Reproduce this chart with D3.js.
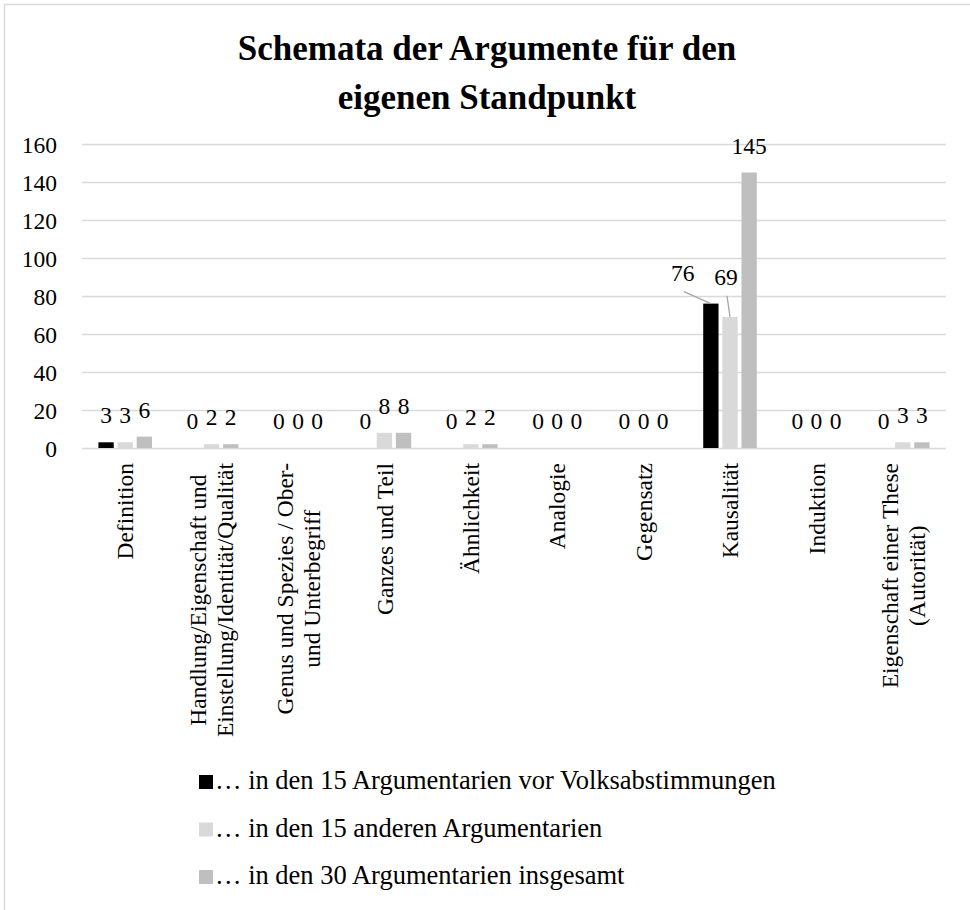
<!DOCTYPE html>
<html>
<head>
<meta charset="utf-8">
<script src="https://cdn.jsdelivr.net/npm/d3@7"></script>
<style>
  body { margin: 0; background: #fff; }
  text { font-family: "Liberation Serif", "Times New Roman", serif; fill: #000; }
</style>
</head>
<body>
<div id="chart"></div>
<script>
// categories (each entry = lines of the rotated label)
var categories = [
  ["Definition"],
  ["Handlung/Eigenschaft und", "Einstellung/Identität/Qualität"],
  ["Genus und Spezies / Ober-", "und Unterbegriff"],
  ["Ganzes und Teil"],
  ["Ähnlichkeit"],
  ["Analogie"],
  ["Gegensatz"],
  ["Kausalität"],
  ["Induktion"],
  ["Eigenschaft einer These", "(Autorität)"]
];

var seriesNames = [
  "… in den 15 Argumentarien vor Volksabstimmungen",
  "… in den 15 anderen Argumentarien",
  "… in den 30 Argumentarien insgesamt"
];
var volksabstimmung = [3, 0, 0, 0, 0, 0, 0, 76, 0, 0];
var andere          = [3, 2, 0, 8, 2, 0, 0, 69, 0, 3];
var insgesamt       = [6, 2, 0, 8, 2, 0, 0, 145, 0, 3];
var seriesValues = [volksabstimmung, andere, insgesamt];
var colors = ["#000000", "#d9d9d9", "#bfbfbf"];

var yTicks = [0, 20, 40, 60, 80, 100, 120, 140, 160];
var titleLines = ["Schemata der Argumente für den", "eigenen Standpunkt"];

var width = 970, height = 910;
var margin = {left: 82, right: 24, top: 144, plotBottom: 448};
var labelSize = "23.5px";

var svg = d3.select("#chart").append("svg")
  .attr("width", width)
  .attr("height", height);

// outer frame of the chart area
svg.append("path")
  .attr("d", "M4.5," + height + " V4.5 H" + width)
  .attr("fill", "none")
  .attr("stroke", "#d9d9d9")
  .attr("stroke-width", 1.5);

// title
svg.append("g").selectAll("text")
  .data(titleLines)
  .enter().append("text")
  .attr("x", 487)
  .attr("y", function(d, i) { return 60 + i * 49; })
  .attr("text-anchor", "middle")
  .style("font-weight", "bold")
  .style("font-size", "35px")
  .text(function(d) { return d; });

var x0 = d3.scaleBand()
  .domain(d3.range(categories.length))
  .range([margin.left, width - margin.right]);

var x1 = d3.scaleBand()
  .domain(d3.range(seriesValues.length))
  .range([0, x0.bandwidth() * 0.62])
  .paddingInner(0.2);

var y = d3.scaleLinear()
  .domain([0, 160])
  .range([margin.plotBottom, margin.top]);

// gridlines
var yAxis = d3.axisLeft(y)
  .tickValues(yTicks)
  .tickSize(-(width - margin.right - margin.left))
  .tickPadding(25);

var gy = svg.append("g")
  .attr("transform", "translate(" + margin.left + ",0)")
  .call(yAxis);
gy.select(".domain").remove();
gy.selectAll(".tick line").attr("stroke", "#d9d9d9").attr("stroke-width", 1.5);
gy.selectAll(".tick text")
  .style("font-size", labelSize)
  .style("font-family", "'Liberation Serif', serif")
  .attr("fill", "#000")
  .attr("dy", "0.34em");

// bars
var groupOffset = (x0.bandwidth() - x1.range()[1]) / 2;
var flat = [];
seriesValues.forEach(function(vals, s) {
  vals.forEach(function(v, c) { flat.push({s: s, c: c, v: v}); });
});

function barCenter(d) {
  return x0(d.c) + groupOffset + x1(d.s) + x1.bandwidth() / 2;
}

svg.append("g").selectAll("rect")
  .data(flat)
  .enter().append("rect")
  .attr("x", function(d) { return x0(d.c) + groupOffset + x1(d.s); })
  .attr("y", function(d) { return y(d.v); })
  .attr("width", x1.bandwidth())
  .attr("height", function(d) { return y(0) - y(d.v); })
  .attr("fill", function(d) { return colors[d.s]; });

// value labels; the two callouts in Kausalität sit aside with a leader line
var callouts = {"0-7": {dx: -28, dy: -4}, "1-7": {dx: -4, dy: -13}};

var labels = svg.append("g");
flat.forEach(function(d) {
  var cx = barCenter(d), by = y(d.v) - 19;
  var co = callouts[d.s + "-" + d.c];
  if (co) {
    labels.append("line")
      .attr("x1", cx + co.dx + 1).attr("y1", by + co.dy + 11)
      .attr("x2", cx).attr("y2", y(d.v))
      .attr("stroke", "#a6a6a6").attr("stroke-width", 1.3);
    labels.append("text")
      .attr("x", cx + co.dx).attr("y", by + co.dy)
      .attr("text-anchor", "middle")
      .style("font-size", labelSize)
      .text(d.v);
  } else {
    labels.append("text")
      .attr("x", cx).attr("y", by)
      .attr("text-anchor", "middle")
      .style("font-size", labelSize)
      .text(d.v);
  }
});

// category labels (rotated, top-aligned, lines centred)
var catG = svg.append("g");
categories.forEach(function(lines, i) {
  var cx = x0(i) + x0.bandwidth() / 2;
  var g = catG.append("g");
  var texts = lines.map(function(line) {
    return g.append("text")
      .attr("text-anchor", "middle")
      .attr("dy", "0.35em")
      .style("font-size", labelSize)
      .text(line);
  });
  var maxLen = d3.max(texts, function(t) { return t.node().getComputedTextLength(); });
  var lh = 27;
  texts.forEach(function(t, j) {
    var off = (j - (lines.length - 1) / 2) * lh;
    t.attr("transform", "translate(" + (cx + off) + "," + (463 + maxLen / 2) + ") rotate(-90)");
  });
});

// legend
var legend = svg.append("g").selectAll("g")
  .data(seriesNames)
  .enter().append("g")
  .attr("transform", function(d, i) { return "translate(199," + (775 + i * 47.5) + ")"; });

legend.append("rect")
  .attr("width", 14)
  .attr("height", 14)
  .attr("fill", function(d, i) { return colors[i]; });

legend.append("text")
  .attr("x", 16)
  .attr("y", 14)
  .style("font-size", "26.5px")
  .text(function(d) { return d; });
</script>
</body>
</html>
